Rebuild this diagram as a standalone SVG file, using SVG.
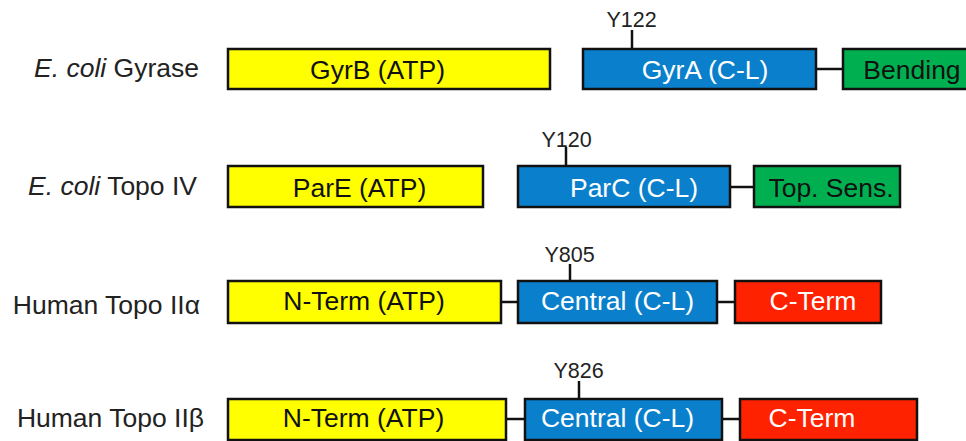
<svg xmlns="http://www.w3.org/2000/svg" width="966" height="441" viewBox="0 0 966 441">
  <style>
    text { font-family: "Liberation Sans", Arial, sans-serif; }
    .lbl { font-size: 26.5px; fill: #222; text-anchor: end; }
    .dom { font-size: 26.5px; text-anchor: middle; }
    .dk { fill: #111; }
    .wt { fill: #ffffff; }
    .site { font-size: 21.5px; fill: #222; text-anchor: middle; }
    .box { stroke: #111; stroke-width: 2.5; }
    .atp { fill: #ffff00; }
    .cl { fill: #0a80cc; }
    .grn { fill: #00b050; }
    .red { fill: #ff2200; }
    .link { stroke: #111; stroke-width: 2.5; fill: none; }
  </style>

  <!-- row labels -->
  <g id="labels">
    <text class="lbl" x="199" y="77"><tspan font-style="italic">E. coli</tspan> Gyrase</text>
    <text class="lbl" x="197" y="195"><tspan font-style="italic">E. coli</tspan> Topo IV</text>
    <text class="lbl" x="200" y="314">Human Topo IIα</text>
    <text class="lbl" x="204" y="427">Human Topo IIβ</text>
  </g>

  <!-- linkers and catalytic tyrosine ticks -->
  <g id="connectors">
    <line class="link" x1="816" y1="69" x2="843" y2="69"/>
    <line class="link" x1="632" y1="30" x2="632" y2="49"/>
    <line class="link" x1="730" y1="187" x2="754" y2="187"/>
    <line class="link" x1="566" y1="147" x2="566" y2="166"/>
    <line class="link" x1="501" y1="302" x2="518" y2="302"/>
    <line class="link" x1="717" y1="302" x2="735" y2="302"/>
    <line class="link" x1="570" y1="264" x2="570" y2="281"/>
    <line class="link" x1="506" y1="419" x2="525" y2="419"/>
    <line class="link" x1="722" y1="419" x2="740" y2="419"/>
    <line class="link" x1="579" y1="381" x2="579" y2="399"/>
  </g>

  <!-- E. coli gyrase -->
  <g id="gyrB">
    <rect class="box atp" x="228" y="49" width="322" height="40"/>
    <text class="dom dk" x="377.5" y="79">GyrB (ATP)</text>
  </g>
  <g id="gyrA">
    <rect class="box cl" x="583" y="49" width="233" height="40"/>
    <text class="dom wt" x="705" y="79">GyrA (C-L)</text>
    <text class="site" x="631.5" y="27">Y122</text>
  </g>
  <g id="bending">
    <rect class="box grn" x="843" y="49" width="130" height="40"/>
    <text class="dom dk" x="912" y="79">Bending</text>
  </g>

  <!-- E. coli topo IV -->
  <g id="parE">
    <rect class="box atp" x="228" y="166" width="255" height="41"/>
    <text class="dom dk" x="359.5" y="197">ParE (ATP)</text>
  </g>
  <g id="parC">
    <rect class="box cl" x="518" y="166" width="212" height="41"/>
    <text class="dom wt" x="634" y="197">ParC (C-L)</text>
    <text class="site" x="566.5" y="147">Y120</text>
  </g>
  <g id="topSens">
    <rect class="box grn" x="754" y="166" width="146" height="41"/>
    <text class="dom dk" x="831" y="197">Top. Sens.</text>
  </g>

  <!-- Human topo IIα -->
  <g id="alphaN">
    <rect class="box atp" x="228" y="281" width="273" height="42"/>
    <text class="dom dk" x="364" y="310">N-Term (ATP)</text>
  </g>
  <g id="alphaCentral">
    <rect class="box cl" x="518" y="281" width="199" height="42"/>
    <text class="dom wt" x="617.5" y="310">Central (C-L)</text>
    <text class="site" x="569.5" y="262">Y805</text>
  </g>
  <g id="alphaC">
    <rect class="box red" x="735" y="281" width="146" height="42"/>
    <text class="dom wt" x="813" y="310">C-Term</text>
  </g>

  <!-- Human topo IIβ -->
  <g id="betaN">
    <rect class="box atp" x="228" y="399" width="278" height="41"/>
    <text class="dom dk" x="363.5" y="427">N-Term (ATP)</text>
  </g>
  <g id="betaCentral">
    <rect class="box cl" x="525" y="399" width="197" height="41"/>
    <text class="dom wt" x="617.5" y="427">Central (C-L)</text>
    <text class="site" x="578.5" y="378">Y826</text>
  </g>
  <g id="betaC">
    <rect class="box red" x="740" y="399" width="177" height="41"/>
    <text class="dom wt" x="812" y="427">C-Term</text>
  </g>
</svg>
